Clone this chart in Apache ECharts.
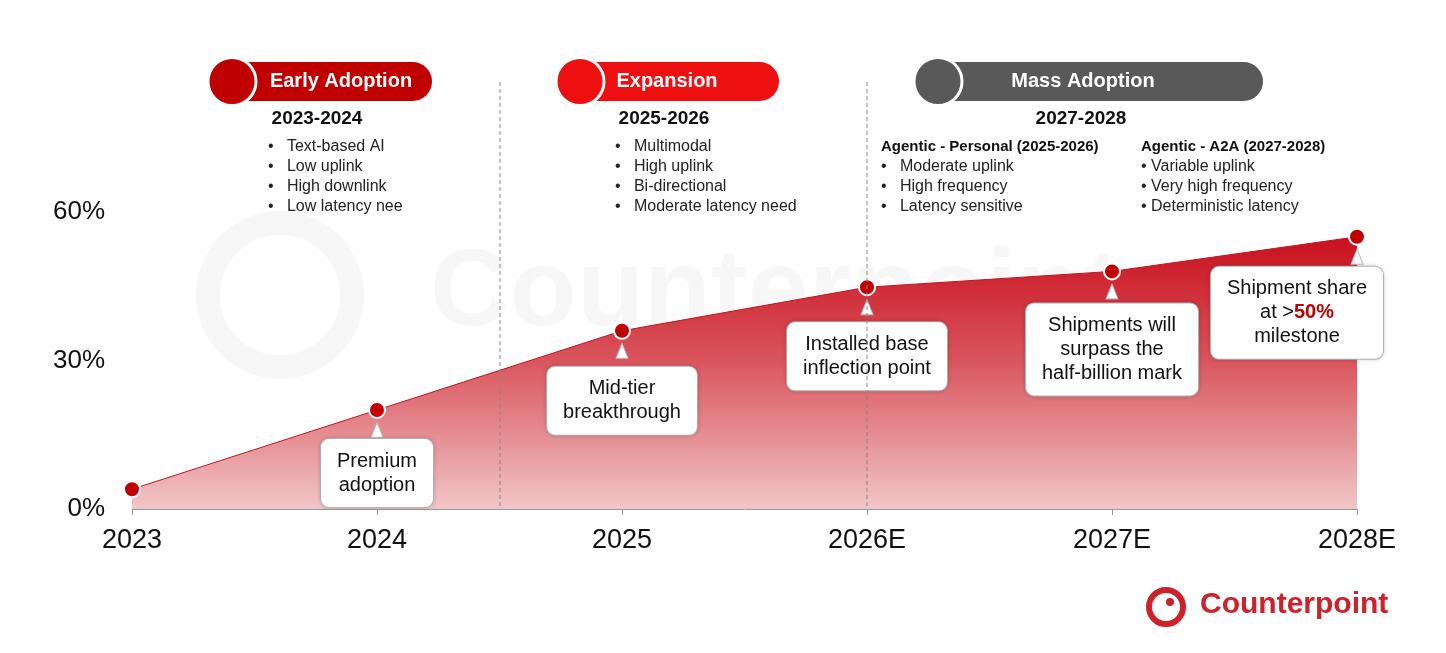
<!DOCTYPE html>
<html><head><meta charset="utf-8">
<script src="https://cdn.jsdelivr.net/npm/echarts@6/dist/echarts.min.js"></script>
<style>html,body{margin:0;padding:0;background:#fff}#chart{width:1446px;height:653px}</style>
</head><body><div id="chart"></div>
<script>
const years = ['2023', '2024', '2025', '2026E', '2027E', '2028E'];
const share = [4, 20, 36, 44.8, 48, 55];
const callouts = ['', 'Premium\nadoption', 'Mid-tier\nbreakthrough', 'Installed base\ninflection point',
  'Shipments will\nsurpass the\nhalf-billion mark', '{t|Shipment share}\n{t|at >}{r|50%}\n{t|milestone}'];
const yTicks = [0, 30, 60];

const font = 'Arial, "Liberation Sans", sans-serif';
let chart = echarts.init(document.getElementById('chart'));

function bullets(x, y, lines, plain) {
  return lines.map((s, i) => ({
    type: 'text', left: x, top: y + i * 20,
    style: { text: (plain ? '• ' : '•   ') + s, font: '16px ' + font, fill: '#222' }
  }));
}
function pill(x, w, color, label, tx) {
  return [
    { type: 'rect', shape: { x: x, y: 62, width: w, height: 39, r: 19.5 }, style: { fill: color } },
    { type: 'circle', shape: { cx: x + 25, cy: 81.5, r: 24 }, style: { fill: color, stroke: '#fff', lineWidth: 3 } },
    { type: 'text', x: tx, y: 81.5, style: { text: label, font: 'bold 20px ' + font, fill: '#fff', align: 'center', verticalAlign: 'middle' } }
  ];
}

let graphic = [].concat(
  pill(207, 225, '#c00000', 'Early Adoption', 341),
  pill(555, 224, '#ee1010', 'Expansion', 667),
  pill(913, 350, '#595959', 'Mass Adoption', 1083),
  [
    { type: 'line', shape: { x1: 500, y1: 82, x2: 500, y2: 509 }, style: { stroke: '#888', lineDash: [4, 3], lineWidth: 1 }, z: 10 },
    { type: 'line', shape: { x1: 867, y1: 82, x2: 867, y2: 509 }, style: { stroke: '#888', lineDash: [4, 3], lineWidth: 1 }, z: 10 },
    { type: 'text', x: 317, y: 119, style: { text: '2023-2024', font: 'bold 19px ' + font, fill: '#111', align: 'center', verticalAlign: 'middle' } },
    { type: 'text', x: 664, y: 119, style: { text: '2025-2026', font: 'bold 19px ' + font, fill: '#111', align: 'center', verticalAlign: 'middle' } },
    { type: 'text', x: 1081, y: 119, style: { text: '2027-2028', font: 'bold 19px ' + font, fill: '#111', align: 'center', verticalAlign: 'middle' } },
    { type: 'text', left: 881, top: 139, style: { text: 'Agentic - Personal (2025-2026)', font: 'bold 15px ' + font, fill: '#111' } },
    { type: 'text', left: 1141, top: 139, style: { text: 'Agentic - A2A (2027-2028)', font: 'bold 15px ' + font, fill: '#111' } },
    { type: 'circle', shape: { cx: 280, cy: 295, r: 72 }, style: { fill: 'none', stroke: 'rgba(0,0,0,0.03)', lineWidth: 24 }, z: -1 },
    { type: 'text', left: 430, top: 240, style: { text: 'Counterpoint', font: 'bold 110px ' + font, fill: 'rgba(0,0,0,0.03)' }, z: -1 },
    { type: 'circle', shape: { cx: 1166, cy: 607, r: 17 }, style: { fill: 'none', stroke: '#d0202a', lineWidth: 6 } },
    { type: 'circle', shape: { cx: 1170, cy: 602, r: 4 }, style: { fill: '#d0202a' } },
    { type: 'text', left: 1200, top: 590, style: { text: 'Counterpoint', font: 'bold 30px ' + font, fill: '#d0202a' } }
  ],
  bullets(268, 139, ['Text-based AI', 'Low uplink', 'High downlink', 'Low latency nee']),
  bullets(615, 139, ['Multimodal', 'High uplink', 'Bi-directional', 'Moderate latency need']),
  bullets(881, 159, ['Moderate uplink', 'High frequency', 'Latency sensitive']),
  bullets(1141, 159, ['Variable uplink', 'Very high frequency', 'Deterministic latency'], true)
);

const calloutOffset = [0, 1, 8, 7, 4, 2];
const calloutShift = [0, 0, 0, 0, 0, -60];
const calloutData = share.map((v, i) => ({
  value: v,
  label: {
    show: !!callouts[i], formatter: callouts[i], position: 'bottom', distance: calloutOffset[i], offset: [calloutShift[i], 0],
    backgroundColor: '#fff', borderColor: '#bbb', borderWidth: 1, borderRadius: 8,
    padding: [10, 16], color: '#111', fontSize: 20, lineHeight: 24, fontFamily: font, align: 'center',
    shadowColor: 'rgba(0,0,0,0.15)', shadowBlur: 4,
    rich: { t: { fontSize: 20, lineHeight: 24, color: '#111' }, r: { fontSize: 20, lineHeight: 24, color: '#c00000', fontWeight: 'bold' } }
  }
}));

option = {
  animation: false,
  grid: { left: 132, right: 89, top: 212, bottom: 144 },
  graphic: graphic,
  xAxis: {
    type: 'category', data: years, boundaryGap: false,
    axisLine: { lineStyle: { color: '#999' } }, axisTick: { show: true, alignWithLabel: true, length: 6, lineStyle: { color: '#999' } },
    axisLabel: { color: '#111', fontSize: 27, fontFamily: font, margin: 18 }
  },
  yAxis: {
    type: 'value', min: 0, max: 60, interval: 30, splitLine: { show: false },
    axisLabel: { color: '#111', fontSize: 26, fontFamily: font, margin: 27, formatter: v => yTicks.includes(v) ? v + '%' : '' }
  },
  series: [
    {
      type: 'line', data: share, symbol: 'circle', symbolSize: 16, z: 5,
      lineStyle: { color: '#c8101e', width: 1 },
      itemStyle: { color: '#c00000', borderColor: '#fff', borderWidth: 2 },
      areaStyle: {
        opacity: 1,
        color: new echarts.graphic.LinearGradient(0, 0, 0, 1, [
          { offset: 0, color: '#c8101e' }, { offset: 0.45, color: '#d9545c' }, { offset: 1, color: '#f1c6c8' }
        ]), origin: 'start'
      }
    },
    {
      type: 'scatter', data: calloutData, symbol: 'triangle', symbolSize: [12, 15], symbolOffset: [0, 20],
      itemStyle: { color: '#fff', borderColor: '#bbb', borderWidth: 1, opacity: 1 }, z: 6,
      silent: true
    }
  ]
};
option.series[1].data[0].itemStyle = { opacity: 0 };
chart.setOption(option);
</script></body></html>
